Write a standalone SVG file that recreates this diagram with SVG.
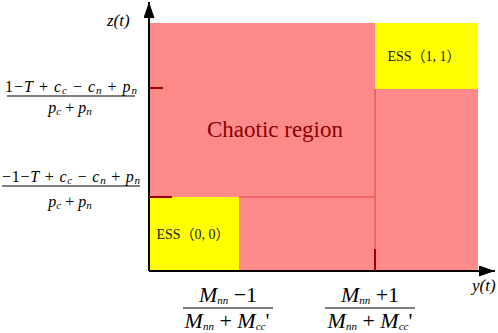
<svg xmlns="http://www.w3.org/2000/svg" width="498" height="333" viewBox="0 0 498 333">
<style>
.m{font-family:"Liberation Serif",Tinos,"Times New Roman","DejaVu Serif",serif;fill:#000}
.i{font-style:italic}
.s{font-size:11px;font-style:italic}
.ess{font-family:"Liberation Serif",Tinos,"DejaVu Serif","Noto Sans CJK SC",serif;font-size:14px;fill:#1a1a1a}
.chaos{font-family:"Liberation Serif",Tinos,"Times New Roman","DejaVu Serif",serif;font-size:23px;fill:#8b0000}
.tick{stroke:#a00000;stroke-width:2}
.div{stroke:#e85a5a;stroke-width:1.5}
.fl{stroke:#000;stroke-width:1.2}
</style>
<defs>
<marker id="ah" viewBox="0 0 16 11" refX="16" refY="5.5" markerWidth="16" markerHeight="11" markerUnits="userSpaceOnUse" orient="auto">
<path d="M0,0 L16,5.5 L0,11 z" fill="#000"/>
</marker>
</defs>
<g id="regions">
<rect id="chaos" x="149" y="23" width="329" height="248" fill="#ff8a8a"/>
<rect id="ess11" x="375" y="23" width="103" height="66" fill="#ffff00"/>
<rect id="ess00" x="149" y="197" width="90" height="74" fill="#ffff00"/>
<line class="div" x1="375" y1="89" x2="375" y2="249"/>
<line class="div" x1="239" y1="197" x2="375" y2="197"/>
</g>
<g id="connectors">
<line x1="149" y1="271" x2="149" y2="2" stroke="#000" stroke-width="2" marker-end="url(#ah)"/>
<line x1="149" y1="271" x2="495" y2="271" stroke="#000" stroke-width="2" marker-end="url(#ah)"/>
<line class="tick" x1="149" y1="88" x2="163" y2="88"/>
<line class="tick" x1="149" y1="197" x2="172" y2="197"/>
<line class="tick" x1="375" y1="249" x2="375" y2="271"/>
</g>
<g id="labels">
<text class="m i" x="107" y="26" font-size="17">z(t)</text>
<text class="m i" x="472" y="291" font-size="17">y(t)</text>
<text id="chaotic" class="chaos" x="275" y="137" text-anchor="middle">Chaotic region</text>
<text class="ess" x="424" y="61" text-anchor="middle">ESS（1, 1）</text>
<text class="ess" x="193" y="239" text-anchor="middle">ESS（0, 0）</text>
</g>
<g id="frac-z1">
<text class="m" x="71" y="92" font-size="16" text-anchor="middle" textLength="132" lengthAdjust="spacing">1−<tspan class="i">T</tspan> + <tspan class="i">c</tspan><tspan class="s" dy="2">c</tspan><tspan dy="-2">  −  </tspan><tspan class="i">c</tspan><tspan class="s" dy="2">n</tspan><tspan dy="-2"> +  </tspan><tspan class="i">p</tspan><tspan class="s" dy="2">n</tspan></text>
<line class="fl" x1="7" y1="96" x2="135" y2="96"/>
<text class="m" x="70" y="113" font-size="16" text-anchor="middle"><tspan class="i">p</tspan><tspan class="s" dy="2">c</tspan><tspan dy="-2"> + </tspan><tspan class="i">p</tspan><tspan class="s" dy="2">n</tspan></text>
</g>
<g id="frac-z2">
<text class="m" x="71" y="182" font-size="16" text-anchor="middle" textLength="138" lengthAdjust="spacing">−1−<tspan class="i">T</tspan> + <tspan class="i">c</tspan><tspan class="s" dy="2">c</tspan><tspan dy="-2">  −  </tspan><tspan class="i">c</tspan><tspan class="s" dy="2">n</tspan><tspan dy="-2"> +  </tspan><tspan class="i">p</tspan><tspan class="s" dy="2">n</tspan></text>
<line class="fl" x1="2" y1="186" x2="140" y2="186"/>
<text class="m" x="70" y="207" font-size="16" text-anchor="middle"><tspan class="i">p</tspan><tspan class="s" dy="2">c</tspan><tspan dy="-2"> + </tspan><tspan class="i">p</tspan><tspan class="s" dy="2">n</tspan></text>
</g>
<g id="frac-y1">
<text class="m" x="228" y="302" font-size="22" text-anchor="middle"><tspan class="i">M</tspan><tspan class="s" font-size="14" dy="2">nn</tspan><tspan dy="-2"> −1</tspan></text>
<line class="fl" x1="183" y1="308" x2="273" y2="308"/>
<text class="m" x="227" y="328" font-size="22" text-anchor="middle"><tspan class="i">M</tspan><tspan class="s" font-size="14" dy="2">nn</tspan><tspan dy="-2"> + </tspan><tspan class="i">M</tspan><tspan class="s" font-size="14" dy="2">cc</tspan><tspan dy="-2">'</tspan></text>
</g>
<g id="frac-y2">
<text class="m" x="370" y="302" font-size="22" text-anchor="middle"><tspan class="i">M</tspan><tspan class="s" font-size="14" dy="2">nn</tspan><tspan dy="-2"> +1</tspan></text>
<line class="fl" x1="325" y1="308" x2="415" y2="308"/>
<text class="m" x="370" y="328" font-size="22" text-anchor="middle"><tspan class="i">M</tspan><tspan class="s" font-size="14" dy="2">nn</tspan><tspan dy="-2"> + </tspan><tspan class="i">M</tspan><tspan class="s" font-size="14" dy="2">cc</tspan><tspan dy="-2">'</tspan></text>
</g>
</svg>
